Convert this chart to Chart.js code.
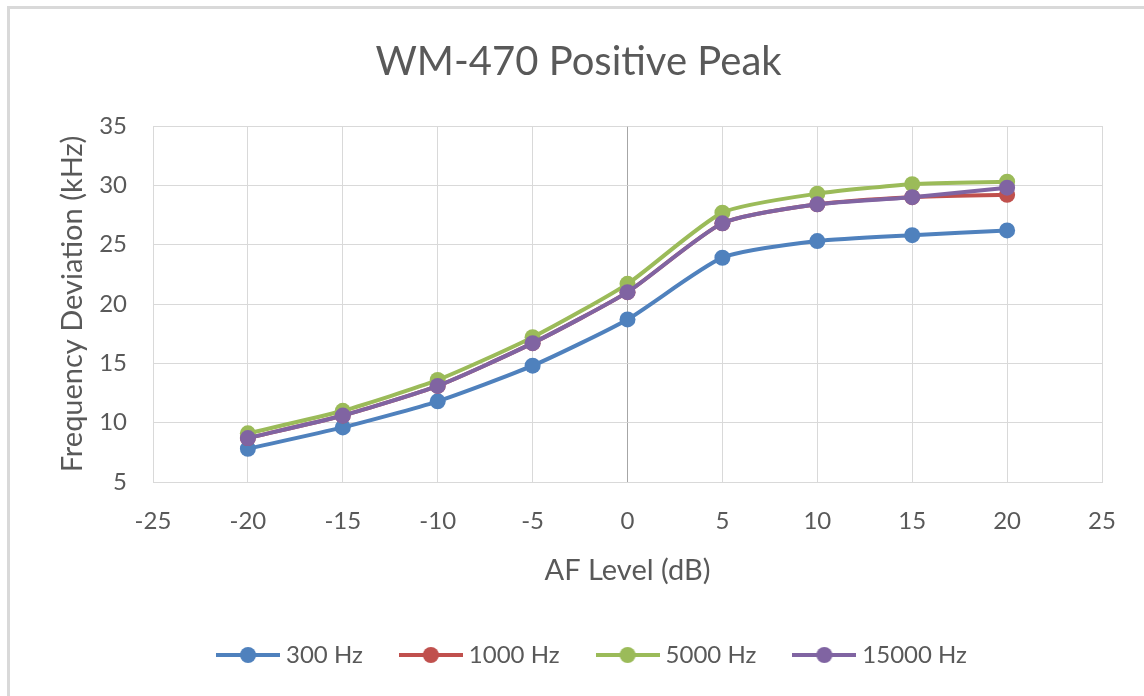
<!DOCTYPE html>
<html>
<head>
<meta charset="utf-8">
<script src="https://cdn.jsdelivr.net/npm/chart.js@4.4.1/dist/chart.umd.min.js"></script>
<style>
  html, body { margin: 0; padding: 0; background: #ffffff; }
  #wrap { position: relative; width: 1144px; height: 696px; }
</style>
</head>
<body>
<div id="wrap"><canvas id="c" width="1144" height="696"></canvas></div>
<script>
// ---- data ----
const afLevels = [-20, -15, -10, -5, 0, 5, 10, 15, 20];
const hz300   = [7.8, 9.6, 11.8, 14.8, 18.7, 23.9, 25.3, 25.8, 26.2];
const hz1000  = [8.7, 10.6, 13.1, 16.7, 21.0, 26.8, 28.4, 29.0, 29.2];
const hz5000  = [9.1, 11.0, 13.6, 17.2, 21.7, 27.7, 29.3, 30.1, 30.3];
const hz15000 = [8.7, 10.6, 13.1, 16.7, 21.0, 26.8, 28.4, 29.0, 29.8];
const seriesNames = ['300 Hz', '1000 Hz', '5000 Hz', '15000 Hz'];
const chartTitle = 'WM-470 Positive Peak';
const xTitle = 'AF Level (dB)';
const yTitle = 'Frequency Deviation (kHz)';

const colors = ['#4F81BD', '#C0504D', '#9BBB59', '#8064A2'];
const textColor = '#595959';
const FONT = 'Lato';

function pts(vals) { return afLevels.map((x, i) => ({ x: x, y: vals[i] })); }

function legendIcon(color) {
  const c = document.createElement('canvas');
  c.width = 64; c.height = 20;
  const g = c.getContext('2d');
  g.strokeStyle = color; g.lineWidth = 4;
  g.beginPath(); g.moveTo(0, 10); g.lineTo(64, 10); g.stroke();
  g.fillStyle = color;
  g.beginPath(); g.arc(32, 10, 8, 0, Math.PI * 2); g.fill();
  return c;
}
const icons = colors.map(legendIcon);

const allSeries = [hz300, hz1000, hz5000, hz15000];
const datasets = allSeries.map((vals, i) => ({
  label: seriesNames[i],
  data: pts(vals),
  borderColor: colors[i],
  backgroundColor: colors[i],
  borderWidth: 4,
  pointRadius: 8,
  pointHoverRadius: 8,
  pointBorderWidth: 0,
  tension: 0.2,
  order: allSeries.length - i
}));

const frame = {
  id: 'frame',
  beforeDraw(chart) {
    const g = chart.ctx;
    g.save();
    g.fillStyle = '#ffffff';
    g.fillRect(0, 0, chart.width, chart.height);
    g.fillStyle = '#d9d9d9';
    g.fillRect(7, 6, 3, chart.height - 6);
    g.fillRect(7, 6, chart.width - 7, 3);
    g.restore();
  }
};

const legendShift = {
  id: 'legendShift',
  afterLayout(chart) {
    if (chart.legend) { chart.legend.left += 16; chart.legend.right += 16; }
  }
};

new Chart(document.getElementById('c'), {
  type: 'line',
  data: { datasets },
  plugins: [frame, legendShift],
  options: {
    responsive: false,
    animation: false,
    devicePixelRatio: 1,
    layout: { padding: { left: 55, right: 42, top: 0, bottom: 19 } },
    plugins: {
      title: {
        display: true,
        text: chartTitle,
        color: textColor,
        font: { family: FONT, size: 40, weight: 'normal' },
        padding: { top: 38, bottom: 40 }
      },
      legend: {
        position: 'bottom',
        labels: {
          color: textColor,
          font: { family: FONT, size: 24 },
          usePointStyle: true,
          pointStyleWidth: 52,
          padding: 42,
          generateLabels(chart) {
            return chart.data.datasets.map((d, i) => ({
              text: d.label,
              pointStyle: icons[i],
              fillStyle: colors[i],
              strokeStyle: colors[i],
              lineWidth: 0,
              hidden: false,
              datasetIndex: i,
              fontColor: textColor
            }));
          }
        }
      },
      tooltip: { enabled: false }
    },
    scales: {
      x: {
        type: 'linear',
        min: -25, max: 25,
        ticks: { stepSize: 5, color: textColor, font: { family: FONT, size: 24 }, padding: 25 },
        grid: {
          drawTicks: false,
          color: (c) => (c.tick && c.tick.value === 0) ? '#a6a6a6' : '#d9d9d9',
          lineWidth: 1
        },
        border: { display: true, color: '#d9d9d9', width: 1 },
        title: {
          display: true, text: xTitle, color: textColor,
          font: { family: FONT, size: 29 }, padding: { top: 0, bottom: 13 }
        },
        afterFit(scale) { scale.height = 119; }
      },
      y: {
        type: 'linear',
        min: 5, max: 35,
        ticks: { stepSize: 5, color: textColor, font: { family: FONT, size: 24 }, padding: 26 },
        grid: { drawTicks: false, color: '#d9d9d9', lineWidth: 1 },
        border: { display: false },
        title: {
          display: true, text: yTitle, color: textColor,
          font: { family: FONT, size: 29 }, padding: { top: 0, bottom: 10 }
        },
        afterFit(scale) { scale.width = 98; }
      }
    }
  }
});
</script>
</body>
</html>
